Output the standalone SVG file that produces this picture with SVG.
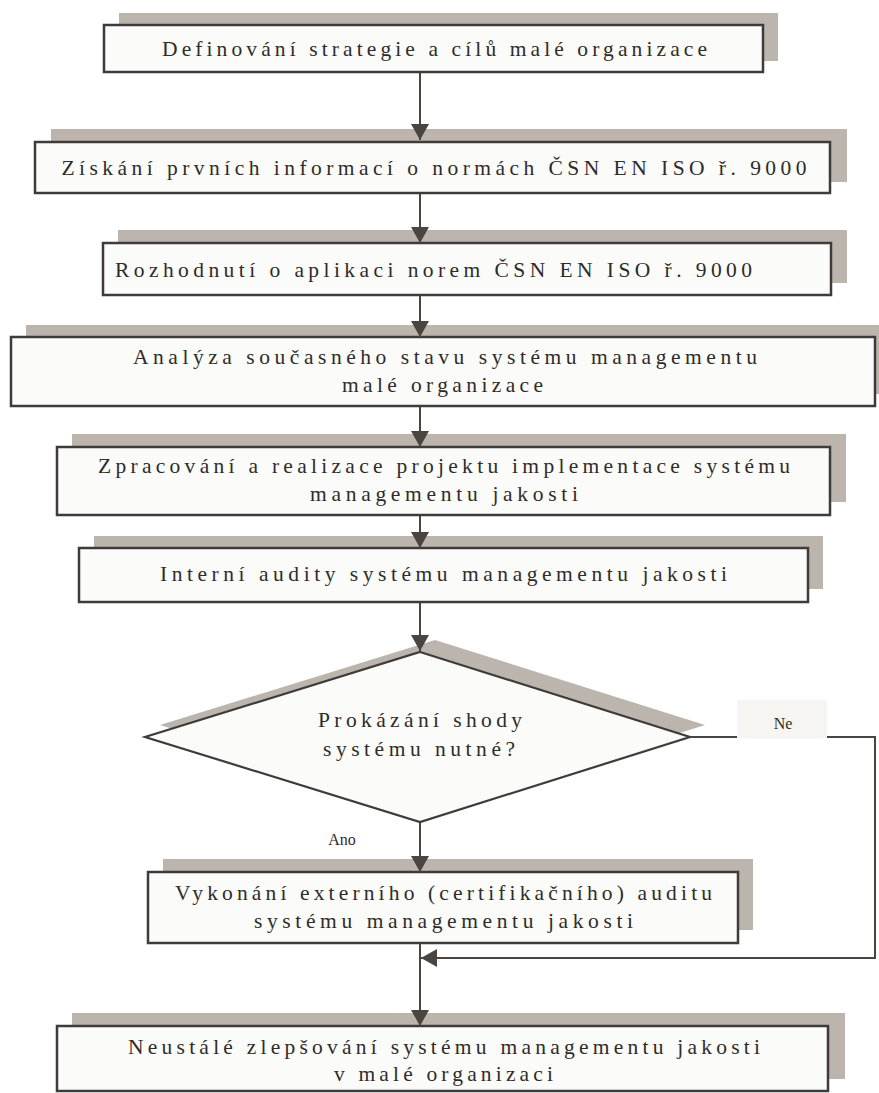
<svg xmlns="http://www.w3.org/2000/svg" width="879" height="1093" viewBox="0 0 879 1093">
<defs>
<style>
.sh{fill:#bcb5ae;stroke:none}
.bx{fill:#fbfbf9;stroke:#3f3b38;stroke-width:2.5}
.t{font-family:"Liberation Serif","DejaVu Serif",serif;font-size:21.5px;fill:#2e2c2a;text-anchor:middle}
.s{font-family:"Liberation Serif","DejaVu Serif",serif;font-size:16px;fill:#2e2c2a;text-anchor:middle}
.c{fill:none;stroke:#4a4541;stroke-width:2}
</style>
<marker id="ah" viewBox="0 0 16 18" refX="16" refY="9" markerWidth="16" markerHeight="18" markerUnits="userSpaceOnUse" orient="auto">
<path d="M0,0 L16,9 L0,18 z" fill="#4a4541"/>
</marker>
</defs>
<rect width="879" height="1093" fill="#ffffff"/>

<g id="n1">
<rect class="sh" x="119" y="13" width="659" height="48"/>
<rect class="bx" x="104" y="25" width="659" height="47"/>
<text class="t" x="434.5" y="56" textLength="545" lengthAdjust="spacing">Definování strategie a cílů malé organizace</text>
</g>

<g id="n2">
<rect class="sh" x="51" y="129" width="796" height="53"/>
<rect class="bx" x="35" y="142" width="795" height="51"/>
<text class="t" x="434" y="175" textLength="745" lengthAdjust="spacing">Získání prvních informací o normách ČSN EN ISO ř. 9000</text>
</g>

<g id="n3">
<rect class="sh" x="118" y="230" width="729" height="53"/>
<rect class="bx" x="103" y="243" width="728" height="52"/>
<text class="t" x="433.5" y="277" textLength="637" lengthAdjust="spacing">Rozhodnutí o aplikaci norem ČSN EN ISO ř. 9000</text>
</g>

<g id="n4">
<rect class="sh" x="26" y="325" width="864" height="69"/>
<rect class="bx" x="11" y="337" width="864" height="69"/>
<text class="t" x="445" y="364" textLength="624" lengthAdjust="spacing">Analýza současného stavu systému managementu</text>
<text class="t" x="442.5" y="392" textLength="201" lengthAdjust="spacing">malé organizace</text>
</g>

<g id="n5">
<rect class="sh" x="72" y="434" width="774" height="68"/>
<rect class="bx" x="57" y="447" width="773" height="68"/>
<text class="t" x="444" y="473" textLength="692" lengthAdjust="spacing">Zpracování a realizace projektu implementace systému</text>
<text class="t" x="444" y="501" textLength="268" lengthAdjust="spacing">managementu jakosti</text>
</g>

<g id="n6">
<rect class="sh" x="94" y="536" width="729" height="53"/>
<rect class="bx" x="79" y="548" width="729" height="54"/>
<text class="t" x="443.5" y="581" textLength="567" lengthAdjust="spacing">Interní audity systému managementu jakosti</text>
</g>

<g id="n7">
<polygon class="sh" points="435,640 705,725 435,810 160,725"/>
<polygon points="420,652 690,737 420,822 145,737" fill="#fbfbf9" stroke="#3f3b38" stroke-width="2.2"/>
<text class="t" x="420" y="727" textLength="204" lengthAdjust="spacing">Prokázání shody</text>
<text class="t" x="419" y="756" textLength="192" lengthAdjust="spacing">systému nutné?</text>
</g>

<g id="n8">
<rect class="sh" x="163" y="859" width="590" height="71"/>
<rect class="bx" x="148" y="872" width="590" height="71"/>
<text class="t" x="443.5" y="900" textLength="537" lengthAdjust="spacing">Vykonání externího (certifikačního) auditu</text>
<text class="t" x="443.5" y="928" textLength="379" lengthAdjust="spacing">systému managementu jakosti</text>
</g>

<g id="n9">
<rect class="sh" x="72" y="1013" width="773" height="66"/>
<rect class="bx" x="57" y="1026" width="771" height="65"/>
<text class="t" x="444" y="1054" textLength="632" lengthAdjust="spacing">Neustálé zlepšování systému managementu jakosti</text>
<text class="t" x="443.5" y="1081" textLength="219" lengthAdjust="spacing">v malé organizaci</text>
</g>

<g id="connectors">
<path class="c" d="M420,73 V140" marker-end="url(#ah)"/>
<path class="c" d="M420,194 V243" marker-end="url(#ah)"/>
<path class="c" d="M420,296 V337" marker-end="url(#ah)"/>
<path class="c" d="M420,407 V447" marker-end="url(#ah)"/>
<path class="c" d="M420,516 V548" marker-end="url(#ah)"/>
<path class="c" d="M420,603 V651" marker-end="url(#ah)"/>
<path class="c" d="M420,823 V872" marker-end="url(#ah)"/>
<path class="c" d="M691,737 H875 V958 H421" marker-end="url(#ah)"/>
<path class="c" d="M420,944 V1026" marker-end="url(#ah)"/>
</g>

<g id="labels">
<rect x="737" y="700" width="90" height="38.5" fill="#f6f5f2"/>
<text class="s" x="783" y="729">Ne</text>
<text class="s" x="342" y="845">Ano</text>
</g>
</svg>
